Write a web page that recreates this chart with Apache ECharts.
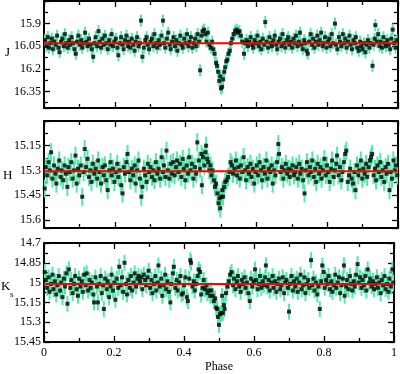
<!DOCTYPE html>
<html><head><meta charset="utf-8">
<script src="https://cdn.jsdelivr.net/npm/echarts@6/dist/echarts.min.js"></script>
<style>html,body{margin:0;padding:0;background:#fff}#c{width:400px;height:374px}</style>
</head><body><div id="c"></div>
<script>
var xTicks = [0, 0.2, 0.4, 0.6, 0.8, 1];
var jTicks = [15.9, 16.05, 16.2, 16.35];
var hTicks = [15.15, 15.3, 15.45, 15.6];
var kTicks = [14.7, 14.85, 15, 15.15, 15.3, 15.45];
var meanJ = 16.03, meanH = 15.305, meanK = 15.01;
var errJ = 0.04, errH = 0.055, errK = 0.06;

var jData = [
[0.003,16.01],[0.007,16.05],[0.011,15.99],[0.014,16.06],[0.018,16.03],[0.022,16.00],[0.025,16.07],[0.029,16.02],[0.033,16.04],[0.037,15.98],
[0.041,16.06],[0.044,16.09],[0.048,16.02],[0.052,16.00],[0.056,16.05],[0.059,15.97],[0.063,16.03],[0.067,16.06],[0.071,16.01],[0.074,16.04],
[0.078,15.99],[0.082,16.03],[0.086,16.07],[0.090,16.10],[0.093,16.02],[0.097,15.98],[0.101,16.04],[0.105,16.01],[0.108,16.06],[0.112,16.03],
[0.116,15.96],[0.120,16.02],[0.123,16.05],[0.127,16.00],[0.131,16.04],[0.135,16.07],[0.139,16.12],[0.142,16.03],[0.146,15.99],[0.150,16.05],
[0.154,15.95],[0.157,16.02],[0.161,16.06],[0.165,16.00],[0.169,16.04],[0.172,15.98],[0.176,16.03],[0.180,16.07],[0.184,16.01],[0.188,16.04],
[0.191,15.97],[0.195,16.05],[0.199,16.02],[0.203,16.00],[0.207,16.06],[0.210,16.11],[0.214,16.03],[0.218,15.99],[0.222,16.04],[0.225,16.07],
[0.229,16.01],[0.233,15.98],[0.237,16.05],[0.240,16.02],[0.244,16.06],[0.248,16.00],[0.252,16.04],[0.256,16.08],[0.259,16.02],[0.263,15.99],
[0.267,16.05],[0.271,16.03],[0.274,15.88],[0.278,16.12],[0.282,16.06],[0.286,16.01],[0.290,15.99],[0.293,16.04],[0.297,16.07],[0.301,16.02],
[0.305,16.00],[0.309,16.05],[0.312,15.97],[0.316,16.03],[0.320,16.06],[0.324,16.01],[0.328,16.04],[0.332,15.98],[0.336,15.88],[0.339,16.03],
[0.343,16.06],[0.347,16.00],[0.351,15.96],[0.355,16.04],[0.358,16.07],[0.362,16.02],[0.366,15.99],[0.370,16.05],[0.374,16.01],[0.377,16.08],
[0.381,16.03],[0.385,15.98],[0.389,16.04],[0.392,16.06],[0.396,16.00],[0.400,16.03],[0.404,15.97],[0.408,16.05],[0.411,16.02],[0.415,15.99],
[0.419,16.06],[0.423,16.03],[0.427,16.00],[0.430,16.05],[0.434,15.97],[0.438,16.02],[0.441,16.21],[0.445,15.98],[0.448,15.95],[0.452,15.94],
[0.456,15.97],[0.459,16.02],[0.463,15.96],[0.467,16.04],[0.471,16.06],[0.475,16.02],[0.478,16.07],[0.482,16.10],[0.486,16.16],[0.489,16.18],
[0.492,16.22],[0.495,16.28],[0.498,16.25],[0.500,16.33],[0.503,16.32],[0.506,16.27],[0.509,16.22],[0.512,16.19],[0.515,16.15],[0.518,16.14],
[0.521,16.10],[0.525,16.08],[0.528,16.03],[0.532,16.00],[0.536,15.97],[0.540,15.95],[0.544,15.94],[0.548,15.96],[0.552,15.95],[0.556,15.98],
[0.560,16.02],[0.565,16.10],[0.568,16.03],[0.572,16.01],[0.576,16.05],[0.580,16.02],[0.584,15.99],[0.588,16.04],[0.591,16.06],[0.595,16.01],
[0.599,16.03],[0.603,15.98],[0.607,16.05],[0.611,16.02],[0.614,16.07],[0.618,16.00],[0.622,16.04],[0.625,15.89],[0.629,16.02],[0.633,16.06],
[0.637,15.99],[0.641,16.03],[0.644,16.05],[0.648,16.01],[0.652,15.98],[0.656,16.04],[0.659,16.07],[0.663,16.02],[0.667,16.00],[0.671,16.05],
[0.674,15.97],[0.678,16.03],[0.682,16.06],[0.686,16.01],[0.690,15.99],[0.693,16.04],[0.697,16.02],[0.701,16.06],[0.705,16.00],[0.708,16.03],
[0.712,15.98],[0.716,16.05],[0.720,16.02],[0.723,15.96],[0.727,16.04],[0.731,16.07],[0.735,16.01],[0.738,16.03],[0.742,16.08],[0.745,16.10],
[0.749,16.02],[0.753,15.97],[0.757,16.04],[0.760,16.00],[0.764,16.06],[0.768,16.02],[0.772,15.98],[0.775,16.04],[0.779,16.01],[0.783,15.96],
[0.787,16.05],[0.790,16.03],[0.794,15.99],[0.798,16.06],[0.802,16.02],[0.806,16.00],[0.809,16.05],[0.813,15.97],[0.817,16.03],[0.822,15.90],
[0.825,16.04],[0.829,16.07],[0.833,15.99],[0.836,16.02],[0.840,16.05],[0.844,15.97],[0.848,16.03],[0.851,16.00],[0.855,16.06],[0.859,16.02],
[0.863,15.98],[0.866,16.04],[0.870,16.07],[0.874,16.01],[0.878,16.03],[0.881,15.99],[0.885,16.06],[0.889,16.08],[0.893,16.02],[0.896,16.05],
[0.900,16.07],[0.904,16.03],[0.908,16.09],[0.911,16.04],[0.915,16.01],[0.919,16.06],[0.923,16.03],[0.928,16.18],[0.931,16.04],[0.934,16.00],
[0.936,15.91],[0.940,16.02],[0.944,15.97],[0.948,16.05],[0.951,16.02],[0.955,16.06],[0.959,15.99],[0.963,16.03],[0.966,16.05],[0.970,16.01],
[0.974,16.04],[0.978,16.07],[0.981,16.00],[0.985,15.94],[0.989,16.03],[0.993,16.06],[0.996,16.01]
];

var hData = [
[0.002,15.41],[0.005,15.28],[0.009,15.33],[0.013,15.25],[0.017,15.30],[0.020,15.19],[0.024,15.35],[0.028,15.27],[0.032,15.32],[0.035,15.38],
[0.039,15.29],[0.043,15.24],[0.047,15.34],[0.050,15.30],[0.054,15.36],[0.058,15.27],[0.062,15.32],[0.066,15.40],[0.069,15.28],[0.073,15.31],
[0.077,15.25],[0.081,15.35],[0.085,15.30],[0.089,15.21],[0.092,15.38],[0.096,15.29],[0.100,15.33],[0.104,15.27],[0.108,15.46],[0.112,15.31],
[0.115,15.17],[0.119,15.28],[0.123,15.23],[0.127,15.34],[0.131,15.30],[0.134,15.37],[0.138,15.26],[0.142,15.32],[0.146,15.29],[0.150,15.35],
[0.153,15.24],[0.157,15.31],[0.161,15.38],[0.165,15.28],[0.169,15.33],[0.172,15.27],[0.176,15.36],[0.180,15.42],[0.184,15.30],[0.188,15.25],
[0.191,15.33],[0.195,15.29],[0.199,15.37],[0.203,15.31],[0.207,15.26],[0.210,15.34],[0.214,15.30],[0.218,15.39],[0.222,15.44],[0.225,15.28],
[0.229,15.32],[0.233,15.25],[0.236,15.20],[0.240,15.31],[0.244,15.36],[0.248,15.29],[0.252,15.33],[0.256,15.27],[0.259,15.38],[0.263,15.30],
[0.267,15.24],[0.271,15.35],[0.275,15.46],[0.278,15.40],[0.282,15.29],[0.286,15.33],[0.290,15.37],[0.293,15.26],[0.297,15.31],[0.301,15.28],
[0.305,15.34],[0.309,15.30],[0.312,15.36],[0.316,15.25],[0.320,15.32],[0.324,15.29],[0.328,15.35],[0.332,15.22],[0.336,15.31],[0.339,15.27],
[0.343,15.34],[0.346,15.18],[0.350,15.30],[0.354,15.35],[0.358,15.26],[0.361,15.32],[0.365,15.25],[0.369,15.33],[0.373,15.28],[0.376,15.24],
[0.380,15.31],[0.384,15.26],[0.388,15.34],[0.392,15.23],[0.395,15.29],[0.399,15.36],[0.403,15.27],[0.407,15.32],[0.410,15.22],[0.414,15.30],
[0.418,15.26],[0.422,15.35],[0.426,15.28],[0.430,15.32],[0.433,15.13],[0.437,15.24],[0.441,15.29],[0.445,15.20],[0.446,15.39],[0.449,15.22],
[0.453,15.27],[0.456,15.19],[0.458,15.15],[0.461,15.23],[0.464,15.25],[0.467,15.30],[0.470,15.27],[0.473,15.33],[0.476,15.30],[0.480,15.36],
[0.483,15.40],[0.486,15.38],[0.490,15.44],[0.493,15.50],[0.496,15.47],[0.498,15.53],[0.501,15.46],[0.504,15.42],[0.506,15.46],[0.509,15.40],
[0.512,15.37],[0.516,15.36],[0.520,15.34],[0.524,15.31],[0.527,15.25],[0.531,15.27],[0.534,15.32],[0.538,15.29],[0.542,15.24],[0.545,15.33],
[0.549,15.28],[0.553,15.35],[0.556,15.27],[0.560,15.31],[0.564,15.22],[0.568,15.30],[0.571,15.36],[0.575,15.28],[0.579,15.32],[0.583,15.26],
[0.586,15.34],[0.590,15.29],[0.594,15.38],[0.598,15.31],[0.601,15.27],[0.605,15.33],[0.609,15.25],[0.613,15.30],[0.616,15.36],[0.620,15.28],
[0.624,15.32],[0.628,15.24],[0.631,15.35],[0.635,15.29],[0.639,15.31],[0.643,15.27],[0.646,15.38],[0.650,15.30],[0.654,15.33],[0.658,15.25],
[0.662,15.14],[0.664,15.20],[0.668,15.31],[0.672,15.28],[0.676,15.35],[0.679,15.30],[0.683,15.26],[0.687,15.32],[0.691,15.29],[0.694,15.34],
[0.698,15.30],[0.702,15.27],[0.706,15.33],[0.709,15.31],[0.713,15.28],[0.717,15.35],[0.721,15.26],[0.724,15.32],[0.728,15.29],[0.732,15.36],
[0.736,15.44],[0.739,15.30],[0.743,15.25],[0.747,15.33],[0.751,15.28],[0.754,15.31],[0.758,15.24],[0.762,15.34],[0.766,15.29],[0.769,15.37],
[0.773,15.26],[0.777,15.32],[0.781,15.28],[0.784,15.35],[0.788,15.30],[0.792,15.23],[0.796,15.33],[0.799,15.27],[0.803,15.31],[0.807,15.37],
[0.811,15.29],[0.814,15.24],[0.818,15.34],[0.822,15.30],[0.826,15.26],[0.828,15.21],[0.832,15.33],[0.836,15.28],[0.840,15.36],[0.843,15.31],
[0.847,15.25],[0.851,15.20],[0.854,15.18],[0.858,15.37],[0.862,15.33],[0.865,15.29],[0.869,15.35],[0.873,15.38],[0.877,15.31],[0.880,15.42],
[0.884,15.27],[0.888,15.33],[0.891,15.30],[0.895,15.24],[0.899,15.35],[0.902,15.29],[0.906,15.32],[0.910,15.26],[0.913,15.34],[0.917,15.28],
[0.921,15.24],[0.924,15.22],[0.927,15.20],[0.931,15.33],[0.935,15.29],[0.938,15.36],[0.942,15.27],[0.946,15.31],[0.950,15.25],[0.953,15.34],
[0.957,15.30],[0.961,15.37],[0.965,15.28],[0.968,15.32],[0.972,15.26],[0.976,15.42],[0.979,15.31],[0.983,15.35],[0.987,15.24],[0.991,15.30],
[0.994,15.27],[0.998,15.33]
];

var kData = [
[0.002,14.92],[0.005,14.98],[0.009,15.04],[0.013,14.96],[0.016,15.07],[0.020,15.01],[0.024,14.94],[0.027,15.05],[0.031,14.99],[0.035,15.09],
[0.038,15.02],[0.042,14.95],[0.046,15.06],[0.049,15.00],[0.053,15.11],[0.057,14.97],[0.060,15.03],[0.064,14.93],[0.067,15.16],[0.071,14.90],
[0.075,15.04],[0.078,14.98],[0.082,15.08],[0.086,15.01],[0.089,14.95],[0.093,15.05],[0.097,15.10],[0.100,14.97],[0.104,15.03],[0.108,14.99],
[0.111,15.07],[0.115,14.94],[0.119,15.02],[0.122,14.93],[0.126,15.06],[0.130,14.98],[0.133,15.04],[0.137,15.00],[0.141,15.09],[0.143,15.15],
[0.147,14.96],[0.151,15.03],[0.154,15.15],[0.158,15.01],[0.162,14.95],[0.165,15.08],[0.169,15.02],[0.171,15.20],[0.175,14.97],[0.179,15.05],
[0.182,14.99],[0.186,15.11],[0.190,15.03],[0.193,14.94],[0.197,15.06],[0.201,15.00],[0.204,15.13],[0.208,14.97],[0.212,15.04],[0.215,14.88],
[0.219,15.02],[0.223,14.96],[0.226,15.07],[0.230,14.85],[0.234,15.01],[0.237,15.09],[0.241,14.98],[0.245,15.04],[0.248,14.95],[0.252,15.06],
[0.256,15.00],[0.259,14.93],[0.263,15.03],[0.267,14.97],[0.270,14.95],[0.274,14.99],[0.278,14.96],[0.281,15.05],[0.285,14.94],[0.289,14.98],
[0.292,15.02],[0.296,14.96],[0.299,14.91],[0.303,15.04],[0.307,14.98],[0.310,15.08],[0.314,15.01],[0.318,14.95],[0.321,15.06],[0.325,15.00],
[0.327,14.87],[0.331,15.03],[0.335,14.97],[0.338,15.10],[0.342,15.02],[0.346,14.94],[0.349,15.05],[0.353,14.99],[0.357,15.07],[0.361,15.15],
[0.364,15.01],[0.368,14.93],[0.371,14.88],[0.375,15.04],[0.379,14.98],[0.382,15.06],[0.386,15.00],[0.390,14.95],[0.393,15.09],[0.397,15.08],
[0.400,15.02],[0.404,14.96],[0.408,15.11],[0.411,15.14],[0.415,14.97],[0.418,14.83],[0.420,14.85],[0.424,15.03],[0.428,14.99],[0.431,15.06],
[0.435,15.01],[0.439,14.95],[0.442,14.90],[0.446,14.92],[0.449,15.09],[0.453,15.04],[0.456,14.98],[0.460,15.05],[0.464,15.02],[0.467,15.08],
[0.471,15.06],[0.475,15.10],[0.478,15.06],[0.482,15.10],[0.485,15.14],[0.489,15.12],[0.492,15.19],[0.495,15.20],[0.497,15.26],[0.500,15.32],
[0.503,15.24],[0.506,15.23],[0.509,15.10],[0.511,15.23],[0.514,15.17],[0.516,15.20],[0.520,15.08],[0.524,15.03],[0.528,14.99],[0.532,14.94],
[0.536,14.92],[0.540,15.02],[0.543,14.97],[0.547,15.05],[0.551,14.99],[0.554,14.95],[0.558,15.03],[0.562,15.07],[0.565,14.98],[0.569,15.01],
[0.573,14.96],[0.576,15.04],[0.580,15.00],[0.584,15.08],[0.588,15.14],[0.591,14.97],[0.595,15.03],[0.599,14.99],[0.603,14.90],[0.606,14.98],
[0.610,15.05],[0.614,15.01],[0.617,14.95],[0.621,15.04],[0.625,14.99],[0.628,15.02],[0.632,14.96],[0.634,14.87],[0.638,15.03],[0.642,14.98],
[0.645,15.06],[0.649,15.00],[0.653,14.95],[0.656,15.04],[0.660,14.99],[0.664,15.07],[0.667,15.01],[0.671,14.97],[0.675,15.05],[0.678,15.02],
[0.682,14.96],[0.686,15.08],[0.689,15.00],[0.693,14.98],[0.697,15.04],[0.700,15.22],[0.703,15.01],[0.707,14.95],[0.711,15.06],[0.714,14.99],
[0.718,15.03],[0.722,14.97],[0.725,15.07],[0.729,15.00],[0.733,14.94],[0.736,15.05],[0.740,15.02],[0.744,14.96],[0.747,15.08],[0.751,15.01],
[0.755,14.98],[0.758,15.04],[0.763,14.83],[0.766,15.02],[0.770,14.97],[0.773,15.06],[0.777,15.00],[0.781,15.09],[0.784,15.03],[0.788,15.20],
[0.792,14.99],[0.795,14.87],[0.799,14.92],[0.802,15.04],[0.806,14.98],[0.810,15.01],[0.813,14.95],[0.817,15.05],[0.821,14.99],[0.824,15.07],
[0.828,15.02],[0.832,14.94],[0.835,15.04],[0.839,15.00],[0.843,14.96],[0.846,15.08],[0.850,15.02],[0.854,14.97],[0.857,14.87],[0.859,15.10],
[0.863,15.03],[0.866,14.98],[0.870,15.05],[0.874,14.95],[0.877,15.01],[0.881,15.06],[0.885,14.99],[0.888,15.03],[0.892,14.94],[0.896,14.86],
[0.899,15.00],[0.903,14.96],[0.907,15.04],[0.910,14.98],[0.914,15.02],[0.918,14.95],[0.921,15.06],[0.925,14.90],[0.929,15.00],[0.932,14.97],
[0.936,15.03],[0.940,14.99],[0.943,15.05],[0.947,15.01],[0.951,14.96],[0.954,15.04],[0.958,15.00],[0.962,15.08],[0.965,14.98],[0.969,15.02],
[0.973,14.95],[0.976,15.05],[0.980,15.01],[0.984,15.07],[0.987,14.97],[0.991,15.03],[0.995,14.90],[0.998,15.00]
];

var GREEN = '#4deaa8';
var FONT = 'Liberation Serif';
var chart = echarts.init(document.getElementById('c'), null, {renderer: 'canvas'});

var grids = [
  {left: 44, right: 2, top: 1, height: 107},
  {left: 44, right: 2, top: 121, height: 107},
  {left: 44, right: 2, top: 243, height: 103}
];
var yr = [[15.75, 16.46], [15.0, 15.65], [14.7, 15.45]];
var ylabs = [jTicks, hTicks, kTicks];
var datas = [jData, hData, kData];
var errs = [errJ, errH, errK];
var means = [meanJ, meanH, meanK];

function fmtFrom(list) {
  return function (v) {
    for (var i = 0; i < list.length; i++) if (Math.abs(v - list[i]) < 1e-6) return String(list[i]);
    return '';
  };
}
var lineStyle = {color: '#000', width: 2};
var tickStyle = {color: '#000', width: 1.3};
var xAxes = [], yAxes = [], series = [];
for (var g = 0; g < 3; g++) {
  [['bottom', true], ['top', false]].forEach(function (pv) {
    xAxes.push({
      gridIndex: g, type: 'value', min: 0, max: 1, interval: 0.2, position: pv[0],
      axisLine: {onZero: false, lineStyle: lineStyle},
      axisTick: {inside: true, length: 6, lineStyle: tickStyle},
      minorTick: {show: true, splitNumber: 2, length: 4, lineStyle: tickStyle},
      axisLabel: {show: pv[1] && g === 2, formatter: fmtFrom(xTicks), fontFamily: FONT, fontSize: 12, color: '#000', margin: 5},
      splitLine: {show: false}, minorSplitLine: {show: false},
      name: (pv[1] && g === 2) ? 'Phase' : '', nameLocation: 'middle', nameGap: 19,
      nameTextStyle: {fontFamily: FONT, fontSize: 12, color: '#000'}
    });
  });
  [['left', true], ['right', false]].forEach(function (pv) {
    yAxes.push({
      gridIndex: g, type: 'value', inverse: true, min: yr[g][0], max: yr[g][1], interval: 0.15, position: pv[0],
      axisLine: {onZero: false, lineStyle: lineStyle},
      axisTick: {inside: true, length: 6, lineStyle: tickStyle},
      minorTick: {show: true, splitNumber: 2, length: 4, lineStyle: tickStyle},
      axisLabel: {show: pv[1], formatter: fmtFrom(ylabs[g]), fontFamily: FONT, fontSize: 12, color: '#000', margin: 3},
      splitLine: {show: false}, minorSplitLine: {show: false}
    });
  });
  (function (err) {
    series.push({
      type: 'custom', xAxisIndex: 2 * g, yAxisIndex: 2 * g, data: datas[g], clip: true, z: 2,
      renderItem: function (params, api) {
        var x = api.value(0), y = api.value(1);
        var p1 = api.coord([x, y - err]), p2 = api.coord([x, y + err]);
        return {type: 'line', shape: {x1: p1[0], y1: p1[1], x2: p2[0], y2: p2[1]},
          style: {stroke: GREEN, lineWidth: 2}};
      }
    });
  })(errs[g]);
  series.push({
    type: 'scatter', xAxisIndex: 2 * g, yAxisIndex: 2 * g, data: datas[g], symbol: 'rect', symbolSize: 4,
    itemStyle: {color: '#000'}, z: 3, silent: true
  });
  series.push({
    type: 'line', xAxisIndex: 2 * g, yAxisIndex: 2 * g, data: [[0, means[g]], [1, means[g]]],
    symbol: 'none', lineStyle: {color: '#ff0000', width: 2}, z: 4, silent: true
  });
}

chart.setOption({
  animation: false,
  backgroundColor: '#fff',
  grid: grids,
  xAxis: xAxes,
  yAxis: yAxes,
  series: series,
  graphic: [
    {type: 'text', left: 5, top: 46, style: {text: 'J', font: '13px "Liberation Serif"', fill: '#000'}},
    {type: 'text', left: 3, top: 169, style: {text: 'H', font: '13px "Liberation Serif"', fill: '#000'}},
    {type: 'text', left: 1, top: 280, style: {text: 'K', font: '13px "Liberation Serif"', fill: '#000'}},
    {type: 'text', left: 10, top: 290, style: {text: 's', font: '9px "Liberation Serif"', fill: '#000'}}
  ]
});
</script>
</body></html>
